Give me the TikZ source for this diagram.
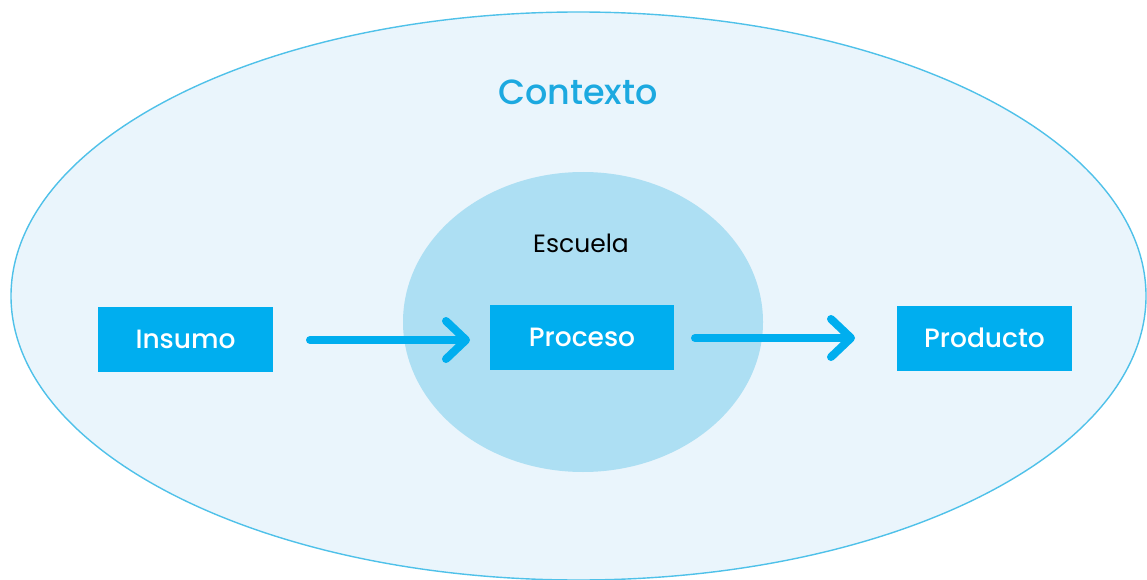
\documentclass[tikz,border=0pt]{standalone}
\usepackage{fontspec}
\setmainfont{Poppins}
\newfontfamily\popmed{Poppins Medium}
\usetikzlibrary{arrows.meta}
\definecolor{outerfill}{HTML}{EAF5FC}
\definecolor{outerline}{HTML}{4FC1E9}
\definecolor{innerfill}{HTML}{ADDFF3}
\definecolor{boxblue}{HTML}{00AEEF}
\definecolor{titleblue}{HTML}{1CA9E0}
\tikzset{
  box/.style={fill=boxblue, minimum width=175pt, minimum height=65pt, inner sep=0pt, text=white, font=\popmed\fontsize{26.5}{31}\selectfont},
  flow/.style={draw=boxblue, line width=8pt, line cap=round, -{Straight Barb[length=20pt, width=38pt, line cap=round, line join=round]}},
}
\begin{document}
\begin{tikzpicture}[x=1pt, y=-1pt]
\useasboundingbox (0,0) rectangle (1147,580);
\path[fill=outerfill, draw=outerline, line width=1.4pt] (578.5,296) ellipse [x radius=567.5, y radius=284];
\path[fill=innerfill] (583,322) ellipse [x radius=180, y radius=150];
\node[text=titleblue, font=\popmed\fontsize{35}{40}\selectfont] (ctx) at (578,92) {Contexto};
\node[font=\fontsize{25}{29}\selectfont] (esc) at (581,243) {Escuela};
\node[box] (ins) at (185.5,339.5) {Insumo};
\node[box, minimum width=184pt] (pro) at (582,337.5) {Proceso};
\node[box] (prd) at (984.5,338) {Producto};
\coordinate (a1s) at (310,340);
\coordinate (a1e) at (470,340);
\coordinate (a2s) at (695,338);
\coordinate (a2e) at (855,338);
\draw[flow] (a1s) -- (a1e);
\draw[flow] (a2s) -- (a2e);
\end{tikzpicture}
\end{document}
